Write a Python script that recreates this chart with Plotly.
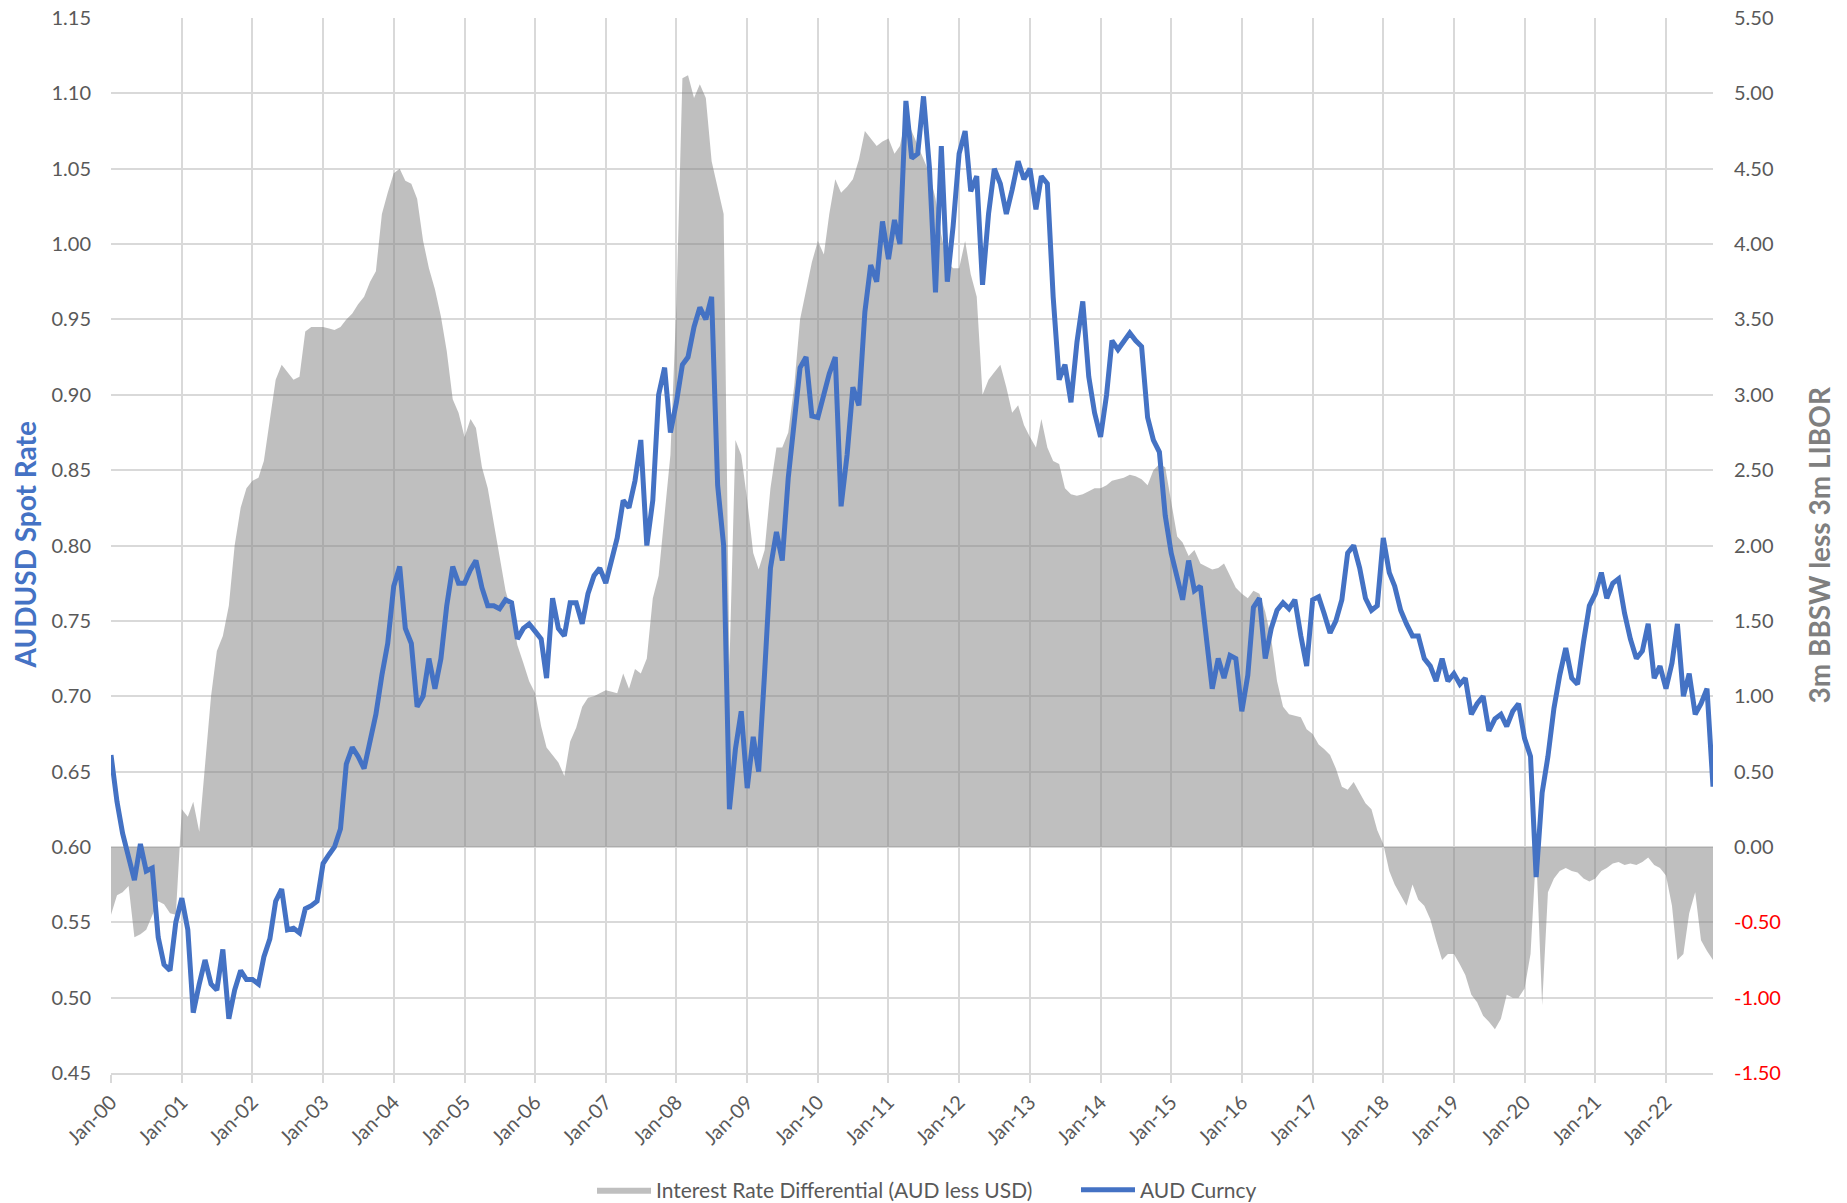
import plotly.graph_objects as go
import pandas as pd

# Monthly observations, Jan-2000 .. Sep-2022 (273 months)
months = pd.date_range("2000-01-01", periods=273, freq="MS")

# AUDUSD spot rate (left axis)
aud = [
    0.661, 0.630, 0.609, 0.593, 0.578, 0.602, 0.584, 0.586, 0.540, 0.522, 0.518, 0.550,  # 2000
    0.566, 0.545, 0.490, 0.509, 0.525, 0.509, 0.505, 0.532, 0.486, 0.505, 0.518, 0.512,  # 2001
    0.512, 0.509, 0.527, 0.539, 0.564, 0.572, 0.545, 0.546, 0.543, 0.559, 0.561, 0.564,  # 2002
    0.589, 0.595, 0.600, 0.612, 0.655, 0.666, 0.660, 0.652, 0.670, 0.688, 0.714, 0.735,  # 2003
    0.773, 0.786, 0.745, 0.735, 0.693, 0.700, 0.725, 0.705, 0.725, 0.760, 0.786, 0.775,  # 2004
    0.775, 0.784, 0.790, 0.772, 0.760, 0.760, 0.758, 0.764, 0.762, 0.738, 0.745, 0.748,  # 2005
    0.743, 0.738, 0.712, 0.765, 0.745, 0.740, 0.762, 0.762, 0.748, 0.768, 0.780, 0.785,  # 2006
    0.775, 0.790, 0.805, 0.830, 0.825, 0.843, 0.870, 0.800, 0.830, 0.900, 0.918, 0.875,  # 2007
    0.895, 0.920, 0.925, 0.945, 0.958, 0.950, 0.965, 0.840, 0.800, 0.625, 0.665, 0.690,  # 2008
    0.639, 0.673, 0.650, 0.716, 0.785, 0.809, 0.790, 0.845, 0.880, 0.918, 0.925, 0.886,  # 2009
    0.885, 0.900, 0.914, 0.925, 0.826, 0.860, 0.905, 0.893, 0.955, 0.986, 0.975, 1.015,  # 2010
    0.990, 1.016, 1.000, 1.095, 1.057, 1.060, 1.098, 1.050, 0.968, 1.065, 0.975, 1.012,  # 2011
    1.060, 1.075, 1.035, 1.045, 0.973, 1.020, 1.050, 1.040, 1.020, 1.036, 1.055, 1.043,  # 2012
    1.050, 1.023, 1.045, 1.040, 0.965, 0.910, 0.920, 0.895, 0.935, 0.962, 0.912, 0.888,  # 2013
    0.872, 0.900, 0.936, 0.930, 0.935, 0.941, 0.936, 0.932, 0.885, 0.870, 0.862, 0.820,  # 2014
    0.795, 0.777, 0.764, 0.790, 0.770, 0.773, 0.736, 0.705, 0.725, 0.712, 0.727, 0.725,  # 2015
    0.690, 0.714, 0.759, 0.765, 0.725, 0.745, 0.757, 0.762, 0.758, 0.764, 0.740, 0.720,  # 2016
    0.764, 0.766, 0.755, 0.742, 0.750, 0.764, 0.795, 0.800, 0.785, 0.765, 0.757, 0.760,  # 2017
    0.805, 0.782, 0.773, 0.757, 0.748, 0.740, 0.740, 0.725, 0.720, 0.710, 0.725, 0.710,  # 2018
    0.715, 0.708, 0.712, 0.688, 0.695, 0.700, 0.677, 0.685, 0.688, 0.680, 0.690, 0.695,  # 2019
    0.672, 0.660, 0.580, 0.636, 0.660, 0.692, 0.714, 0.732, 0.712, 0.708, 0.736, 0.760,  # 2020
    0.768, 0.782, 0.765, 0.775, 0.778, 0.755, 0.738, 0.725, 0.730, 0.748, 0.712, 0.720,  # 2021
    0.705, 0.722, 0.748, 0.700, 0.715, 0.688, 0.695, 0.705, 0.640,                       # 2022
]

# 3m BBSW less 3m LIBOR (right axis)
diff = [
    -0.45, -0.32, -0.30, -0.26, -0.60, -0.58, -0.55, -0.45, -0.36, -0.38, -0.44, -0.45,  # 2000
    0.25, 0.20, 0.30, 0.10, 0.55, 1.00, 1.30, 1.40, 1.60, 2.00, 2.25, 2.38,              # 2001
    2.43, 2.45, 2.56, 2.84, 3.10, 3.20, 3.15, 3.10, 3.12, 3.42, 3.45, 3.45,              # 2002
    3.45, 3.44, 3.43, 3.45, 3.50, 3.54, 3.60, 3.65, 3.75, 3.82, 4.20, 4.34,              # 2003
    4.47, 4.50, 4.42, 4.40, 4.30, 4.02, 3.84, 3.70, 3.52, 3.29, 2.97, 2.88,              # 2004
    2.72, 2.84, 2.78, 2.52, 2.38, 2.15, 1.93, 1.70, 1.56, 1.34, 1.22, 1.10,              # 2005
    1.02, 0.80, 0.66, 0.61, 0.56, 0.47, 0.70, 0.79, 0.93, 0.99, 1.00, 1.02,              # 2006
    1.04, 1.03, 1.02, 1.15, 1.05, 1.18, 1.15, 1.25, 1.65, 1.80, 2.20, 2.60,              # 2007
    3.60, 5.10, 5.12, 4.97, 5.06, 4.97, 4.55, 4.38, 4.20, 1.20, 2.70, 2.60,              # 2008
    2.30, 1.95, 1.84, 1.97, 2.38, 2.65, 2.65, 2.75, 3.06, 3.50, 3.70, 3.88,              # 2009
    4.02, 3.93, 4.20, 4.43, 4.34, 4.38, 4.43, 4.56, 4.75, 4.70, 4.65, 4.68,              # 2010
    4.70, 4.60, 4.65, 4.84, 4.75, 4.65, 4.56, 4.47, 4.30, 4.06, 3.88, 3.84,              # 2011
    3.84, 4.02, 3.80, 3.65, 3.00, 3.10, 3.15, 3.20, 3.05, 2.88, 2.93, 2.80,              # 2012
    2.72, 2.65, 2.84, 2.65, 2.56, 2.54, 2.38, 2.34, 2.33, 2.34, 2.36, 2.38,              # 2013
    2.38, 2.40, 2.43, 2.44, 2.45, 2.47, 2.46, 2.44, 2.40, 2.50, 2.54, 2.52,              # 2014
    2.29, 2.06, 2.02, 1.93, 1.97, 1.88, 1.86, 1.84, 1.85, 1.88, 1.80, 1.72,              # 2015
    1.68, 1.65, 1.70, 1.68, 1.56, 1.38, 1.10, 0.93, 0.88, 0.87, 0.86, 0.78,              # 2016
    0.75, 0.68, 0.65, 0.61, 0.52, 0.40, 0.38, 0.43, 0.36, 0.29, 0.25, 0.11,              # 2017
    0.02, -0.16, -0.25, -0.32, -0.39, -0.25, -0.35, -0.39, -0.48, -0.62, -0.75, -0.71,   # 2018
    -0.71, -0.78, -0.85, -0.98, -1.03, -1.12, -1.16, -1.21, -1.14, -0.98, -1.00, -1.00,  # 2019
    -0.94, -0.71, -0.03, -1.05, -0.30, -0.21, -0.16, -0.14, -0.16, -0.17, -0.21, -0.23,  # 2020
    -0.21, -0.16, -0.14, -0.11, -0.10, -0.12, -0.11, -0.12, -0.10, -0.07, -0.12, -0.14,  # 2021
    -0.19, -0.39, -0.75, -0.71, -0.44, -0.30, -0.62, -0.69, -0.75,                      # 2022
]

aud_ticks = [0.45, 0.50, 0.55, 0.60, 0.65, 0.70, 0.75, 0.80, 0.85, 0.90, 0.95, 1.00, 1.05, 1.10, 1.15]
diff_ticks = [-1.5, -1.0, -0.5, 0.0, 0.5, 1.0, 1.5, 2.0, 2.5, 3.0, 3.5, 4.0, 4.5, 5.0, 5.5]
diff_ticktext = [
    (f'<span style="color:#FF0000">{v:.2f}</span>' if v < 0 else f"{v:.2f}") for v in diff_ticks
]

GRID = "#d9d9d9"
FONT = "Lato, Calibri, 'Open Sans', sans-serif"

fig = go.Figure()
fig.add_trace(go.Scatter(
    x=months, y=diff, name="Interest Rate Differential (AUD less USD)",
    mode="lines", line=dict(width=0, color="rgba(127,127,127,0.5)"),
    fill="tozeroy", fillcolor="rgba(127,127,127,0.5)", yaxis="y",
))
fig.add_trace(go.Scatter(
    x=months, y=aud, name="AUD Curncy", mode="lines",
    line=dict(color="#4472C4", width=5), yaxis="y2",
))

fig.update_layout(
    width=1847, height=1203,
    margin=dict(l=111, r=134, t=18, b=130, autoexpand=False),
    paper_bgcolor="white", plot_bgcolor="white",
    font=dict(family=FONT, size=20, color="#595959"),
    xaxis=dict(
        type="date", range=["2000-01-01", "2022-09-01"], automargin=False,
        tick0="2000-01-01", dtick="M12", tickformat="%b-%y", tickangle=-45,
        showgrid=True, gridcolor=GRID, gridwidth=1.5,
        ticks="outside", ticklen=8, tickcolor=GRID, tickwidth=1.5,
        showline=True, linecolor=GRID, linewidth=1.5, zeroline=False,
        tickfont=dict(size=20, color="#595959"),
    ),
    yaxis=dict(
        side="right", range=[-1.5, 5.5], tickvals=diff_ticks, ticktext=diff_ticktext,
        showgrid=True, gridcolor=GRID, gridwidth=1.5, zeroline=False, automargin=False,
        ticks="", ticklabelstandoff=20, tickfont=dict(size=20, color="#595959"),
    ),
    yaxis2=dict(
        overlaying="y", side="left", range=[0.45, 1.15], tickvals=aud_ticks,
        tickformat=".2f", showgrid=False, zeroline=False, ticks="", automargin=False,
        ticklabelstandoff=19, tickfont=dict(size=20, color="#595959"),
    ),
    showlegend=True,
    legend=dict(
        orientation="h", xref="container", yref="container",
        x=592 / 1847, xanchor="left", y=(1203 - 1190) / 1203, yanchor="middle",
        font=dict(size=21, color="#595959"), itemwidth=54, entrywidth=415,
        bgcolor="rgba(0,0,0,0)",
    ),
    annotations=[
        dict(text="<b>AUDUSD Spot Rate</b>", xref="paper", yref="paper",
             x=(24 - 111) / 1602, y=0.5, textangle=-90, showarrow=False,
             xanchor="center", yanchor="middle",
             font=dict(size=28, color="#4472C4", family=FONT)),
        dict(text="<b>3m BBSW less 3m LIBOR</b>", xref="paper", yref="paper",
             x=(1818 - 111) / 1602, y=0.5, textangle=-90, showarrow=False,
             xanchor="center", yanchor="middle",
             font=dict(size=28, color="#7f7f7f", family=FONT)),
    ],
)

fig.write_html(
    "out.html",
    config={"displayModeBar": False},
    post_script="document.body.style.margin='0';document.body.style.overflow='hidden';",
)
